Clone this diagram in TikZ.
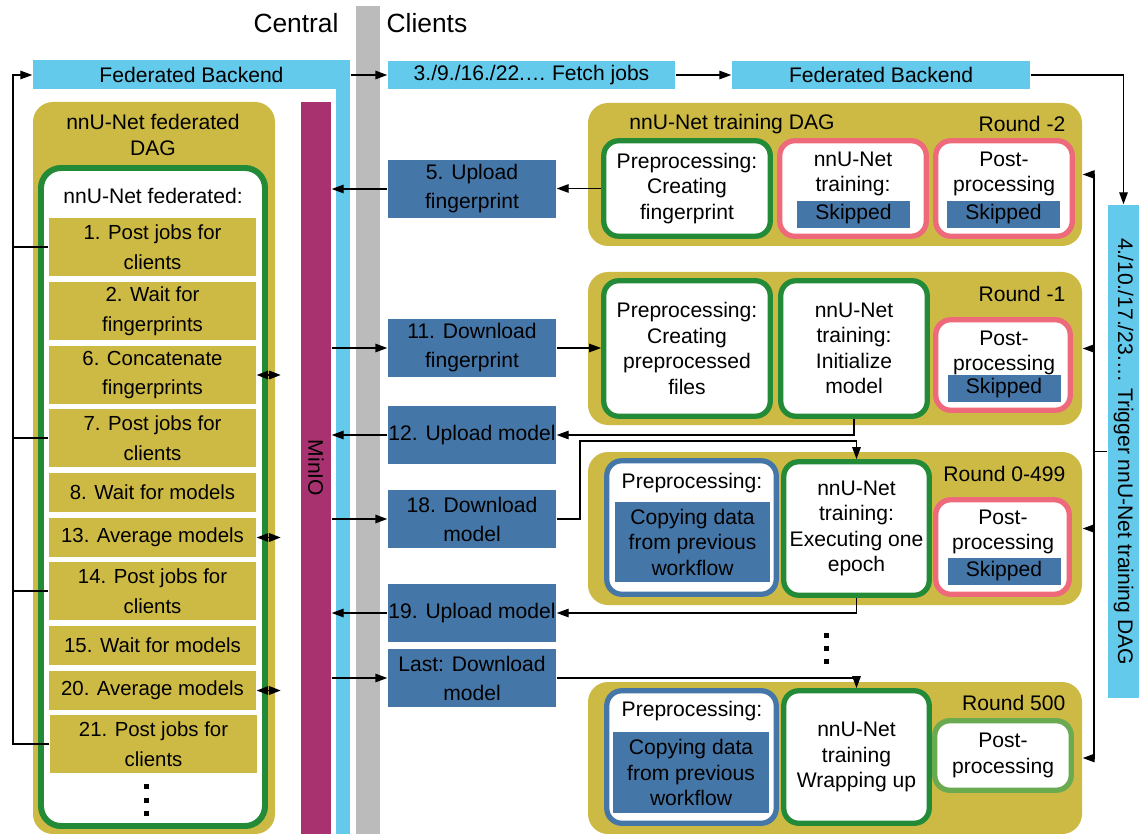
\documentclass[tikz,border=0pt]{standalone}
\usepackage{fontspec}
\setmainfont{Liberation Sans}
\usetikzlibrary{arrows.meta}

\definecolor{backendblue}{RGB}{99,202,236}
\definecolor{dagolive}{RGB}{205,186,69}
\definecolor{daggreen}{RGB}{35,138,55}
\definecolor{lightgreen}{RGB}{106,170,80}
\definecolor{skipred}{RGB}{238,106,123}
\definecolor{jobblue}{RGB}{69,118,168}
\definecolor{miniopurple}{RGB}{168,50,112}
\definecolor{dividergray}{RGB}{187,187,187}

\tikzset{
	dims/.style 2 args={minimum width=#1*0.02cm, minimum height=#2*0.02cm},
	txt/.style={font=\fontsize{12}{14.5}\selectfont, align=center, inner sep=0pt},
	backend/.style={txt, fill=backendblue},
	transfer/.style={txt, fill=jobblue, dims={168}{58}, font=\fontsize{12}{16.5}\selectfont},
	fedstep/.style={txt, fill=dagolive, font=\fontsize{11.6}{17}\selectfont},
	dag/.style={fill=dagolive, rounded corners=0.4cm, inner sep=0pt},
	task/.style={txt, draw, line width=3pt, fill=white, rounded corners=0.3cm},
	skipped/.style={txt, fill=jobblue, dims={113}{27}},
	link/.style={-{Triangle[length=2.4mm,width=1.7mm]}},
	exchange/.style={{Triangle[length=2.3mm,width=1.7mm]}-{Triangle[length=2.3mm,width=1.7mm]}},
}

\begin{document}
\begin{tikzpicture}[x=0.02cm, y=-0.02cm, line width=0.8pt]
	
	% Canvas (one unit = one pixel of the layout)
	\useasboundingbox (0,0) rectangle (1139,834);
	
	% Headings
	\node[txt, font=\fontsize{15}{18}\selectfont] (central) at (296,23) {Central};
	\node[txt, font=\fontsize{15}{18}\selectfont, anchor=west] (clients) at (386,23) {Clients};
	
	% Divider, backend column and storage
	\fill[dividergray] (356,6) rectangle (380,834);
	\node[backend, dims={317}{29}] (fbc) at (191.5,75) {Federated Backend};
	\fill[backendblue] (336,89) rectangle (350,834);
	\node[txt, fill=miniopurple, dims={732}{30}, rotate=-90] (minio) at (316,468) {MinIO};
	
	% Federated DAG on the central side
	\node[dag, dims={242}{732}] (fed) at (154,468) {};
	\node[txt, font=\fontsize{12}{15}\selectfont] (fedtitle) at (153,135) {nnU-Net federated\\DAG};
	\node[task, draw=daggreen, line width=3.4pt, rounded corners=0.4cm, dims={224}{658}] (fedframe) at (153,497) {};
	\node[txt] (fedlabel) at (153,196) {nnU-Net federated:};
	
	\node[fedstep, dims={207}{58}] (st1)  at (152.5,247)   {1. Post jobs for\\clients};
	\node[fedstep, dims={207}{58}] (st2)  at (152.5,311)   {2. Wait for\\fingerprints};
	\node[fedstep, dims={207}{58}] (st6)  at (152.5,375)   {6. Concatenate\\fingerprints};
	\node[fedstep, dims={207}{58}] (st7)  at (152.5,438)   {7. Post jobs for\\clients};
	\node[fedstep, dims={207}{39}] (st8)  at (152.5,492.5) {8. Wait for models};
	\node[fedstep, dims={207}{39}] (st13) at (152.5,537.5) {13. Average models};
	\node[fedstep, dims={207}{58}] (st14) at (152.5,591)   {14. Post jobs for\\clients};
	\node[fedstep, dims={207}{39}] (st15) at (152.5,645.5) {15. Wait for models};
	\node[fedstep, dims={207}{39}] (st20) at (152.5,690.5) {20. Average models};
	\node[fedstep, dims={207}{58}] (st21) at (153.5,744)   {21. Post jobs for\\clients};
	\foreach \y in {786.5,800,813.5}
		\fill (144,\y-2.5) rectangle ++(5,5);
	
	% Posted jobs go back to the backend
	\coordinate (bus) at (13,75);
	\draw[link] (st21.west) -| (bus) -- (fbc.west);
	\foreach \s in {st1,st7,st14}
		\draw (\s.west) -- (\s.west -| bus);
	
	% Read / write on MinIO
	\foreach \s in {st6,st13,st20}
		\draw[exchange] (\s.east) -- ++(24,0);
	
	% Job chain to the clients
	\node[backend, dims={287}{28}] (fetch) at (531.5,75) {3./9./16./22.… Fetch jobs};
	\node[backend, dims={298}{28}] (fbr) at (881,75) {Federated Backend};
	\node[backend, dims={493}{31}, rotate=-90] (trigger) at (1123.5,451.5) {4./10./17./23.… Trigger nnU-Net training DAG};
	\draw[link] (fbc.east) -- (fetch.west);
	\draw[link] (fetch) -- (fbr);
	\draw[link] (fbr.east) -| (trigger.west);
	
	% Transfers between clients and MinIO
	\node[transfer] (up5)    at (472,189) {5. Upload\\fingerprint};
	\node[transfer] (dl11)   at (472,348) {11. Download\\fingerprint};
	\node[transfer] (up12)   at (472,435) {12. Upload model};
	\node[transfer] (dl18)   at (472,519) {18. Download\\model};
	\node[transfer] (up19)   at (472,613) {19. Upload model};
	\node[transfer] (dllast) at (472,678) {Last: Download\\model};
	
	\draw[link] (up5.west) -- (up5.west -| minio.north);
	\draw[link] (minio.north |- dl11) -- (dl11.west);
	\draw[link] (up12.west) -- (up12.west -| minio.north);
	\draw[link] (minio.north |- dl18) -- (dl18.west);
	\draw[link] (up19.west) -- (up19.west -| minio.north);
	\draw[link] (minio.north |- dllast) -- (dllast.west);
	
	% Round -2
	\node[dag, dims={494}{143}] (r2) at (835,174.5) {};
	\node[txt] (r2title) at (732,124) {nnU-Net training DAG};
	\node[txt, anchor=east] (r2round) at (1066,124) {Round -2};
	\node[task, draw=daggreen, dims={166.5}{95.5}] (r2pre) at (687,188.5) {Preprocessing:\\Creating\\fingerprint};
	\node[task, draw=skipred, dims={146.5}{95.5}] (r2train) at (853,188.5) {};
	\node[txt] (r2traintxt) at (853,174) {nnU-Net\\training:};
	\node[skipped] (r2trainskip) at (853.5,214.5) {Skipped};
	\node[task, draw=skipred, dims={136.5}{95.5}] (r2post) at (1004,188.5) {};
	\node[txt] (r2posttxt) at (1004,174) {Post-\\processing};
	\node[skipped] (r2postskip) at (1003.5,214.5) {Skipped};
	
	% Round -1
	\node[dag, dims={494}{153}] (r1) at (835,348.5) {};
	\node[txt, anchor=east] (r1round) at (1066,294) {Round -1};
	\node[task, draw=daggreen, dims={166.5}{135.5}] (r1pre) at (687,348.5) {Preprocessing:\\Creating\\preprocessed\\files};
	\node[task, draw=daggreen, dims={146.5}{135.5}] (r1train) at (854,348.5) {nnU-Net\\training:\\Initialize\\model};
	\node[task, draw=skipred, dims={134.5}{90.5}] (r1post) at (1003,365) {};
	\node[txt] (r1posttxt) at (1004,353) {Post-\\processing};
	\node[skipped] (r1postskip) at (1004,388.5) {Skipped};
	
	% Round 0-499
	\node[dag, dims={494}{153}] (r0) at (835,528.5) {};
	\node[txt, anchor=east] (r0round) at (1066,474) {Round 0-499};
	\node[task, draw=jobblue, dims={169.5}{133.5}] (r0pre) at (691.5,527.5) {};
	\node[txt] (r0pretxt) at (692,483) {Preprocessing:};
	\node[txt, fill=jobblue, dims={155}{80}] (r0copy) at (692.5,542) {Copying data\\from previous\\workflow};
	\node[task, draw=daggreen, dims={145.5}{133.5}] (r0train) at (856.5,528.5) {nnU-Net\\training:\\Executing one\\epoch};
	\node[task, draw=skipred, dims={133.5}{94.5}] (r0post) at (1002.5,547) {};
	\node[txt] (r0posttxt) at (1003,532) {Post-\\processing};
	\node[skipped] (r0postskip) at (1004,571) {Skipped};
	
	\foreach \y in {635,648,661}
		\fill (823.5,\y-2.5) rectangle ++(5,5);
	
	% Round 500
	\node[dag, dims={494}{152}] (r500) at (835,758) {};
	\node[txt, anchor=east] (r500round) at (1066,703) {Round 500};
	\node[task, draw=jobblue, dims={169.5}{132.5}] (r5pre) at (691.5,757) {};
	\node[txt] (r5pretxt) at (692,711) {Preprocessing:};
	\node[txt, fill=jobblue, dims={156}{81}] (r5copy) at (691,772.5) {Copying data\\from previous\\workflow};
	\node[task, draw=daggreen, dims={145.5}{132.5}] (r5train) at (856.5,757) {nnU-Net\\training\\Wrapping up};
	\node[task, draw=lightgreen, dims={136.5}{69.5}] (r5post) at (1003,755.5) {Post-\\processing};
	
	% Client side data flow
	\draw[link] (r2pre.west) -- (r2pre.west -| up5.east);
	\draw[link] (dl11.east) -- (dl11.east -| r1pre.west);
	\draw[link] (r1train.south) |- (up12.east);
	\coordinate (detour) at (580,441);
	\draw[link] (dl18.east) -| (detour) -| (r0train.north);
	\draw[link] (r0train.south) |- (up19.east);
	\draw[link] (dllast.east) -| (r5train.north);
	
	% Trigger fans out to every round
	\coordinate (fan) at (1094,451.5);
	\draw (trigger.south) -- (fan);
	\draw (fan |- r2.east) -- (fan |- r500.east);
	\foreach \r in {r2,r1,r0,r500}
		\draw[link] (fan |- \r.east) -- (\r.east);
	
\end{tikzpicture}
\end{document}
